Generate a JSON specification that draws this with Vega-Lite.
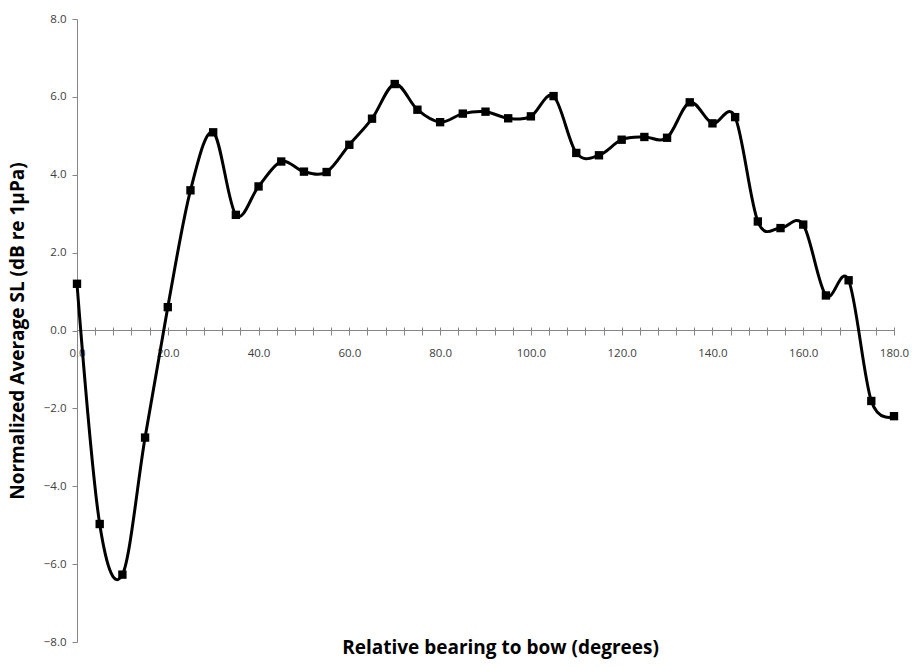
{
  "$schema": "https://vega.github.io/schema/vega-lite/v6.json",
  "autosize": "none",
  "width": 817,
  "height": 623,
  "padding": {"left": 77, "top": 19, "right": 19, "bottom": 25},
  "background": "white",
  "config": {"view": {"stroke": null}},
  "title": {"text": "Relative bearing to bow  (degrees)", "orient": "bottom", "anchor": "middle", "frame": "group", "offset": 0, "dy": -9, "dx": 15, "font": "Open Sans", "fontSize": 19, "fontWeight": "bold", "color": "#000000"},
  "data": {"values": [
    {"bearing": 0, "sl": 1.2},
    {"bearing": 5, "sl": -4.97},
    {"bearing": 10, "sl": -6.27},
    {"bearing": 15, "sl": -2.75},
    {"bearing": 20, "sl": 0.6},
    {"bearing": 25, "sl": 3.6},
    {"bearing": 30, "sl": 5.09},
    {"bearing": 35, "sl": 2.97},
    {"bearing": 40, "sl": 3.7},
    {"bearing": 45, "sl": 4.34},
    {"bearing": 50, "sl": 4.08},
    {"bearing": 55, "sl": 4.07},
    {"bearing": 60, "sl": 4.77},
    {"bearing": 65, "sl": 5.44},
    {"bearing": 70, "sl": 6.33},
    {"bearing": 75, "sl": 5.67},
    {"bearing": 80, "sl": 5.35},
    {"bearing": 85, "sl": 5.57},
    {"bearing": 90, "sl": 5.62},
    {"bearing": 95, "sl": 5.45},
    {"bearing": 100, "sl": 5.5},
    {"bearing": 105, "sl": 6.02},
    {"bearing": 110, "sl": 4.56},
    {"bearing": 115, "sl": 4.5},
    {"bearing": 120, "sl": 4.9},
    {"bearing": 125, "sl": 4.97},
    {"bearing": 130, "sl": 4.95},
    {"bearing": 135, "sl": 5.86},
    {"bearing": 140, "sl": 5.32},
    {"bearing": 145, "sl": 5.48},
    {"bearing": 150, "sl": 2.8},
    {"bearing": 155, "sl": 2.63},
    {"bearing": 160, "sl": 2.72},
    {"bearing": 165, "sl": 0.9},
    {"bearing": 170, "sl": 1.29},
    {"bearing": 175, "sl": -1.81},
    {"bearing": 180, "sl": -2.2}
  ]},
  "layer": [
    {
      "mark": {"type": "rule", "color": "#868686", "strokeWidth": 1},
      "encoding": {"y": {"datum": 0, "type": "quantitative", "scale": {"domain": [-8, 8], "nice": false}}}
    },
    {
      "mark": {"type": "line", "interpolate": "cardinal", "tension": 0, "color": "#000000", "strokeWidth": 3},
      "encoding": {
        "x": {
          "field": "bearing", "type": "quantitative",
          "scale": {"domain": [0, 180], "nice": false, "zero": false},
          "axis": {
            "title": null,
            "offset": -315,
            "domain": false,
            "values": [0,4,8,12,16,20,24,28,32,36,40,44,48,52,56,60,64,68,72,76,80,84,88,92,96,100,104,108,112,116,120,124,128,132,136,140,144,148,152,156,160,164,168,172,176,180],
            "tickCount": 200,
            "labelExpr": "datum.value % 20 === 0 ? format(datum.value, '.1f') : ''",
            "grid": false,
            "ticks": true,
            "tickColor": "#868686",
            "tickWidth": 1,
            "tickSize": 8,
            "labelPadding": 12,
            "labelFont": "Open Sans",
            "labelFontSize": 11.5,
            "labelColor": "#404040",
            "labelFlush": false,
            "labelOverlap": false
          }
        },
        "y": {
          "field": "sl", "type": "quantitative",
          "scale": {"domain": [-8, 8], "nice": false},
          "axis": {
            "title": "Normalized Average SL (dB re 1µPa)",
            "titleFont": "Open Sans",
            "titleFontSize": 19,
            "titleFontWeight": "bold",
            "titleColor": "#000000",
            "titlePadding": 16,
            "values": [-8,-6,-4,-2,0,2,4,6,8],
            "format": ".1f",
            "grid": false,
            "domainColor": "#868686",
            "tickColor": "#868686",
            "tickSize": 5,
            "labelPadding": 6,
            "labelFont": "Open Sans",
            "labelFontSize": 11.5,
            "labelColor": "#404040"
          }
        }
      }
    },
    {
      "mark": {"type": "point", "shape": "square", "filled": true, "color": "#000000", "opacity": 1, "size": 70},
      "encoding": {
        "x": {"field": "bearing", "type": "quantitative"},
        "y": {"field": "sl", "type": "quantitative"}
      }
    }
  ]
}
